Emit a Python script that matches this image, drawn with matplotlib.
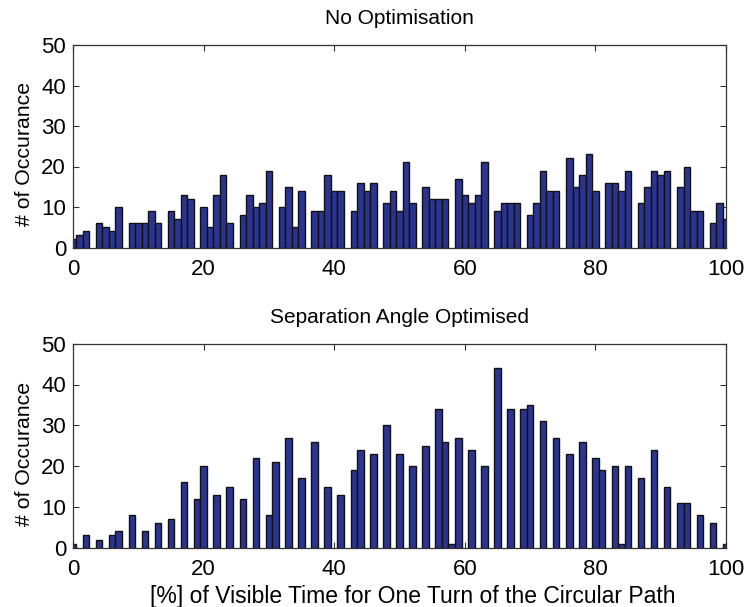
import matplotlib
matplotlib.use("Agg")
import matplotlib.pyplot as plt
import numpy as np

plt.rcParams['font.family'] = ['Liberation Sans', 'DejaVu Sans']

bins = list(range(0, 101))

no_opt = [2, 3, 4, 0, 6, 5, 4, 10, 0, 6,
          6, 6, 9, 6, 0, 9, 7, 13, 12, 0,
          10, 5, 13, 18, 6, 0, 8, 13, 10, 11,
          19, 0, 10, 15, 5, 14, 0, 9, 9, 18,
          14, 14, 0, 9, 16, 14, 16, 0, 11, 14,
          9, 21, 11, 0, 15, 12, 12, 12, 0, 17,
          13, 11, 13, 21, 0, 9, 11, 11, 11, 0,
          8, 11, 19, 14, 14, 0, 22, 15, 18, 23,
          14, 0, 16, 16, 14, 19, 0, 11, 15, 19,
          18, 19, 0, 15, 20, 9, 9, 0, 6, 11,
          7]

sep_opt_nonzero = {0: 1, 2: 3, 4: 2, 6: 3, 7: 4, 9: 8, 11: 4, 13: 6, 15: 7,
                   17: 16, 19: 12, 20: 20, 22: 13, 24: 15, 26: 12, 28: 22,
                   30: 8, 31: 21, 33: 27, 35: 17, 37: 26, 39: 15, 41: 13,
                   43: 19, 44: 24, 46: 23, 48: 30, 50: 23, 52: 20, 54: 25,
                   56: 34, 57: 26, 58: 1, 59: 27, 61: 24, 63: 20, 65: 44,
                   67: 34, 69: 34, 70: 35, 72: 31, 74: 27, 76: 23, 78: 26,
                   80: 22, 81: 19, 83: 20, 84: 1, 85: 20, 87: 17, 89: 24,
                   91: 15, 93: 11, 94: 11, 96: 8, 98: 6, 100: 1}
sep_opt = [sep_opt_nonzero.get(b, 0) for b in bins]

titles = ["No Optimisation", "Separation Angle Optimised"]
ylabel = "# of Occurance"
xlabel = "[%] of Visible Time for One Turn of the Circular Path"
xticks = [0, 20, 40, 60, 80, 100]
yticks = [0, 10, 20, 30, 40, 50]

W, H = 748, 607
fig = plt.figure(figsize=(W / 100, H / 100), dpi=100)

bar_color = '#2b3491'
positions = [
    (73 / W, 1 - 247.5 / H, (726 - 73) / W, 202.5 / H),
    (73 / W, 1 - 547.7 / H, (726 - 73) / W, 204.0 / H),
]

for pos, data, title in zip(positions, [no_opt, sep_opt], titles):
    ax = fig.add_axes(pos)
    vals = np.array(data)
    xs = np.array(bins)
    mask = vals > 0
    ax.bar(xs[mask], vals[mask], width=1.0, align='center', color=bar_color,
           edgecolor='#111111', linewidth=1.0, zorder=2)
    ax.set_xlim(0, 100)
    ax.set_ylim(0, 50)
    ax.set_xticks(xticks)
    ax.set_yticks(yticks)
    ax.tick_params(direction='in', top=True, right=True, length=4.3,
                   width=0.8, color='#333333', labelsize=16, pad=5)
    ax.tick_params(axis='x', pad=8)
    for s in ax.spines.values():
        s.set_linewidth(0.9)
        s.set_color('#333333')
        s.set_zorder(3)
    ax.set_title(title, fontsize=15, pad=15)
    ax.set_ylabel(ylabel, fontsize=15.3, labelpad=5)
    ax.yaxis.label.set_y(0.46)

ax.set_xlabel(xlabel, fontsize=16.5, labelpad=4)
ax.xaxis.label.set_x(0.52)

fig.savefig("out.png", dpi=100)
